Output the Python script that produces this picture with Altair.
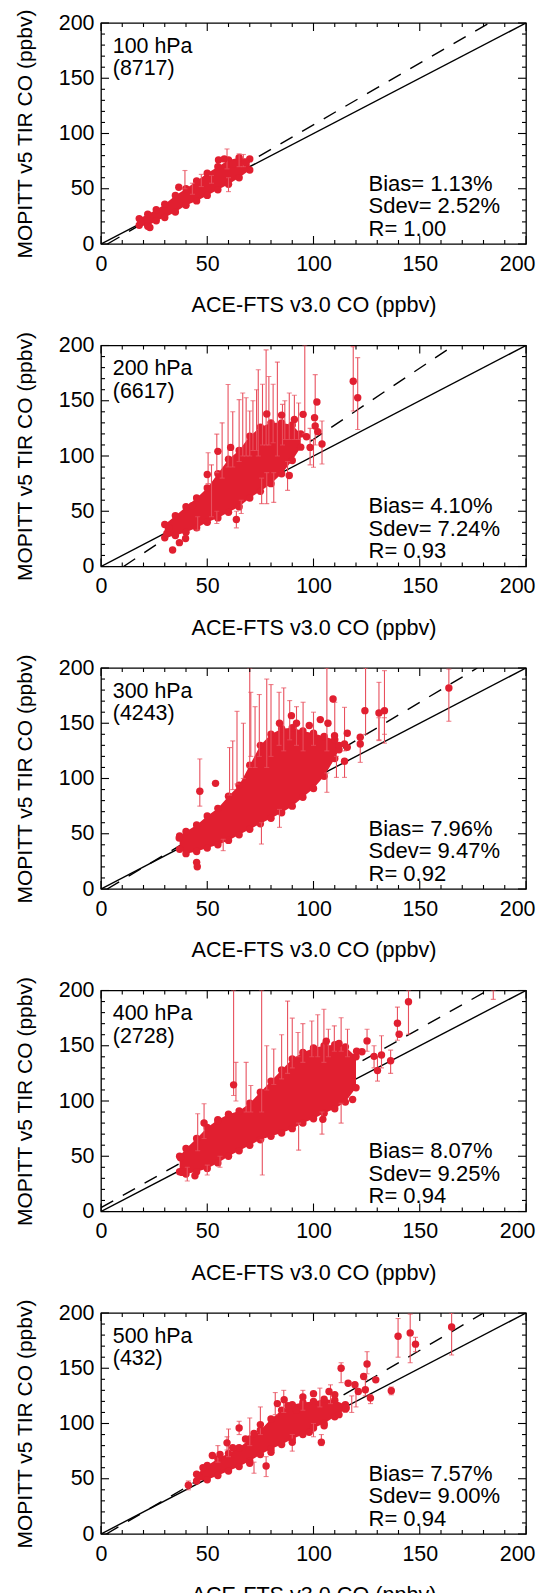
import altair as alt
import pandas as pd

# ---------------- data ----------------
LEVELS = ["100 hPa", "200 hPa", "300 hPa", "400 hPa", "500 hPa"]
COUNTS = ["(8717)", "(6617)", "(4243)", "(2728)", "(432)"]
BIAS = ["1.13%", "4.10%", "7.96%", "8.07%", "7.57%"]
SDEV = ["2.52%", "7.24%", "9.47%", "9.25%", "9.00%"]
CORR = ["1.00", "0.93", "0.92", "0.94", "0.94"]

# dashed fit line end points (x, y) for each panel
DASH_X = [[3.0, 182.7], [10.6, 165.9], [2.9, 177.1], [0.0, 181.9], [2.5, 180.0]]
DASH_Y = [[0.0, 200.0], [0.0, 200.0], [0.0, 200.0], [3.5, 200.0], [0.0, 200.0]]
ONE_X = [0, 200]
ONE_Y = [0, 200]

MAJOR = [0, 50, 100, 150, 200]
MINOR = [10, 20, 30, 40, 60, 70, 80, 90, 110, 120, 130, 140, 160, 170, 180, 190]

# dense core of each cloud: (x, lower edge, upper edge)
BAND1 = [(18, 17, 23), (22, 16, 27), (26, 21, 31), (30, 24, 36), (35, 29, 44), (40, 35, 50),
         (45, 39, 57), (50, 44, 64), (55, 49, 70), (60, 54, 76), (65, 60, 78), (70, 67, 77)]
BAND2 = [(30, 26, 38), (35, 28, 46), (40, 31, 54), (45, 35, 62), (50, 40, 71), (55, 44, 84),
         (60, 49, 97), (65, 54, 105), (70, 62, 118), (75, 68, 126), (80, 75, 130), (85, 84, 130),
         (90, 96, 128), (94, 108, 120)]
BAND3 = [(37, 36, 48), (40, 32, 52), (45, 34, 58), (50, 37, 66), (55, 40, 73), (60, 44, 84),
         (65, 49, 94), (70, 54, 112), (75, 59, 130), (80, 64, 140), (85, 69, 145), (90, 75, 146),
         (95, 83, 143), (100, 91, 141), (105, 102, 138), (110, 118, 135), (112, 126, 130)]
BAND4 = [(37, 36, 50), (40, 34, 57), (45, 36, 66), (50, 39, 76), (55, 44, 83), (60, 50, 88),
         (65, 55, 91), (70, 60, 98), (75, 65, 108), (80, 68, 118), (85, 71, 128), (90, 75, 138),
         (95, 80, 144), (100, 84, 148), (105, 89, 150), (110, 93, 151), (115, 99, 149), (120, 112, 140)]
BAND5 = [(45, 48, 54), (50, 49, 62), (55, 53, 68), (60, 57, 73), (65, 61, 78), (70, 66, 86),
         (75, 72, 94), (80, 77, 104), (85, 81, 112), (90, 86, 117), (95, 90, 119), (100, 96, 120),
         (105, 100, 122), (110, 106, 121), (115, 113, 117)]

# individual points (x, y)
PTS1 = [(18.7, 19.6), (23, 15), (36.6, 51.3), (55.3, 76), (58, 77), (62, 72.5), (68, 74)]
PTS2 = [(33.7, 15), (36.9, 21.6), (39.8, 25.4), (50, 83.2), (55, 104.2), (61, 107.8), (63.7, 42.5),
        (101.6, 148.8), (118.7, 167.7), (120.8, 152.7), (104, 110.8), (100.8, 127.2), (96.7, 117.4),
        (98.4, 107.8), (91, 133), (95.1, 137.7), (88.6, 82.3), (100.5, 134.7), (102, 122), (85, 137),
        (78, 138), (43, 55), (31, 30), (32, 35)]
PTS3 = [(36.8, 46.2), (45, 24.1), (45.3, 20.2), (46.5, 88.4), (53.9, 95.6), (89.6, 156.9),
        (109.2, 172), (103.2, 153.3), (106.8, 150), (109.9, 138.8), (114.6, 131.2), (115.9, 140.9),
        (115.9, 128.2), (114.6, 115.6), (122, 137.3), (122, 131.2), (124.2, 161.4), (130.8, 159.3),
        (133.4, 161.4), (163.7, 181.9), (92, 150), (98, 148), (84, 150)]
PTS4 = [(37.4, 48.6), (38.2, 35.4), (44.2, 32.4), (48.5, 80.1), (62.4, 114.6), (104.4, 83.4),
        (118.4, 101.4), (144.7, 189.8), (139.5, 170.3), (140.3, 160.4), (136.3, 136.5), (132, 141.6),
        (128.5, 140.4), (130.1, 127.5), (125.2, 154.4), (122.8, 144.5), (120.3, 145), (55, 82),
        (112, 152), (106, 154)]
PTS5 = [(41.1, 44.1), (65, 96), (59.3, 82.5), (52.4, 71.1), (77.7, 61.5), (103.7, 83.1), (113, 150),
        (116.3, 136.5), (125.2, 153.9), (123.6, 142.5), (129.3, 139.5), (124.4, 130.5), (126.8, 123),
        (136.6, 129.6), (139.8, 179), (145.5, 182), (148, 171.8), (165, 187.4), (119.5, 135),
        (121.1, 129), (115.4, 114), (107.3, 129), (86.2, 121.5), (83, 118), (95, 124), (100, 127),
        (110, 126), (72, 91), (68, 86), (75, 99), (62, 78), (56, 72), (48, 60), (46, 52), (70, 64),
        (80, 74), (90, 83), (98, 92), (105, 98), (112, 108), (88, 116), (92, 112)]

# error bars (x, lower, upper)
ERR1 = [(39.5, 50, 66.5), (47.2, 52, 63), (59.3, 68, 86), (60, 47.4, 60), (65, 70, 81.6),
        (67, 70, 81), (52, 55, 62), (43, 45, 55)]
ERR2 = [(118.7, 140.7, 199), (120.8, 124, 189), (104, 92.8, 131.7), (59.8, 90, 164.7), (77.7, 110, 196),
        (95.9, 120, 200), (100.8, 110, 173.6), (79, 110, 172), (81, 112, 165), (65, 95, 151),
        (68.3, 100, 152.7), (54.5, 85, 119.8), (50.4, 75, 103), (88.6, 115, 157), (91, 115, 155),
        (85.4, 110, 146.7), (70, 100, 140.7), (73.2, 105, 160), (57, 80, 130), (62, 90, 140),
        (75.6, 56.9, 80), (78, 56.9, 85), (81.3, 58, 85), (87.8, 68.9, 95), (100, 89.8, 115),
        (63.7, 35, 50), (66, 47.9, 60), (54.5, 38.9, 50), (45.5, 32.9, 45), (98.4, 92, 125),
        (83, 100, 185), (74, 100, 178), (66.7, 100, 157), (71.5, 105, 150), (76, 110, 165),
        (86.5, 115, 150), (93, 115, 148), (52, 45, 92)]
ERR3 = [(163.7, 151.8, 199), (70, 110, 200), (106.3, 125, 200), (124.5, 140, 200), (133.4, 140, 197.6),
        (130.8, 135, 187), (64, 95, 160.8), (70.5, 120, 178), (74.5, 120, 176), (83.8, 130, 178),
        (88.8, 135, 170.5), (95.1, 125, 169), (110, 140, 169), (114.6, 125, 164.4), (46.5, 75, 117.7),
        (62, 90, 134), (60.5, 85, 128), (75.5, 40.7, 60), (57.5, 34.7, 45), (84, 55.8, 72),
        (106.3, 87.5, 105), (110.8, 101, 120), (114.6, 101, 118), (122, 114.6, 135), (130.8, 134.3, 155),
        (133.4, 132, 155), (80, 120, 185), (86, 125, 182), (67, 100, 150), (78, 110, 190),
        (92, 130, 165), (100, 130, 160), (72.5, 110, 165)]
ERR4 = [(144.7, 160.4, 200), (139.5, 155, 185), (136.3, 125, 146), (132, 130, 159), (128.5, 130, 150),
        (130.1, 118, 140), (125.2, 145, 165), (62.4, 105, 200), (75.6, 90, 200), (63.5, 100, 135),
        (48.5, 66, 97.5), (87.8, 125, 190.4), (104.9, 135, 183), (45.5, 55, 88.5), (68.3, 90, 135),
        (70.5, 90, 114), (81.3, 115, 147), (92.7, 140, 162), (99.2, 140, 172.4), (109.8, 145, 168),
        (113, 145, 175.4), (116, 140, 165), (75.9, 33, 65), (93, 55.5, 80), (104, 70, 90), (113, 80, 98),
        (56, 40, 50), (50, 33, 42), (40.6, 27.6, 40), (184.6, 192, 200), (85, 120, 160), (95, 135, 170),
        (78, 110, 150), (90, 130, 175), (102, 140, 178), (107, 140, 165)]
ERR5 = [(41.1, 40, 48), (113, 137, 155), (125.2, 145, 165), (139.8, 160, 195), (145.5, 155, 199),
        (148, 165, 178), (165, 162, 200), (77.7, 52, 70), (136.6, 126, 133), (65, 90, 102), (59.3, 76, 88),
        (86, 110, 130), (82, 108, 128), (95, 112, 130), (103, 115, 132), (108, 118, 135), (118, 110, 125),
        (120, 115, 133), (75, 90, 115), (70, 80, 105), (60, 70, 95), (55, 65, 80), (72, 55, 65),
        (90, 75, 90), (100, 88, 100), (103.7, 80, 90), (126.8, 118, 126), (124.4, 125, 140)]

BANDS = [BAND1, BAND2, BAND3, BAND4, BAND5]
POINTS = [PTS1, PTS2, PTS3, PTS4, PTS5]
ERRS = [ERR1, ERR2, ERR3, ERR4, ERR5]

# ---------------- styling ----------------
W, H = 425, 221
RED = "#E11F30"
ERRC = "#E8505E"
FONT = "Liberation Sans"
XS = alt.Scale(domain=[0, 200], nice=False, zero=False)
YS = alt.Scale(domain=[0, 200], nice=False, zero=False)
XAX = alt.Axis(values=MAJOR, title="ACE-FTS v3.0 CO (ppbv)", ticks=False, tickSize=0,
               domain=False, grid=False, labelPadding=9, labelFlush=False,
               labelAlign={"condition": {"test": "datum.value >= 200", "value": "right"},
                           "value": "center"},
               labelOffset={"condition": {"test": "datum.value >= 200", "value": 9},
                            "value": 0},
               titleFontSize=21.6, titleY=67.5, titleBaseline="alphabetic")
YAX = alt.Axis(values=MAJOR, title="MOPITT v5 TIR CO (ppbv)", ticks=False, tickSize=0,
               domain=False, grid=False, labelPadding=7, labelFlush=False,
               titleFontSize=21, titleX=-70, titleBaseline="alphabetic")


def X(f):
    return alt.X(f, scale=XS, axis=XAX)


def Y(f):
    return alt.Y(f, scale=YS, axis=YAX)


def tick_layers(values, length):
    df = pd.DataFrame({"v": values})
    base = alt.Chart(df).mark_rule(color="black", strokeWidth=1.1)
    return [
        base.encode(y=Y("v:Q"), x=alt.value(0), x2=alt.value(length)),
        base.encode(y=Y("v:Q"), x=alt.value(W - length), x2=alt.value(W)),
        base.encode(x=X("v:Q"), y=alt.value(H), y2=alt.value(H - length)),
        base.encode(x=X("v:Q"), y=alt.value(0), y2=alt.value(length)),
    ]


def text_layer(label, x, y, size):
    return alt.Chart(pd.DataFrame({"t": [label]})).mark_text(
        align="left", baseline="alphabetic", font=FONT, fontSize=size,
        lineBreak="\n", lineHeight=22.7, color="black"
    ).encode(x=alt.value(x), y=alt.value(y), text="t:N")


def panel(i):
    band = pd.DataFrame(BANDS[i], columns=["x", "lo", "hi"])
    pts = pd.DataFrame(POINTS[i], columns=["x", "y"])
    err = pd.DataFrame(ERRS[i], columns=["x", "lo", "hi"])
    one = pd.DataFrame({"x": ONE_X, "y": ONE_Y})
    dash = pd.DataFrame({"x": DASH_X[i], "y": DASH_Y[i]})

    one_l = alt.Chart(one).mark_line(color="black", strokeWidth=1.4, clip=True).encode(
        x=X("x:Q"), y=Y("y:Q"))
    dash_l = alt.Chart(dash).mark_line(color="black", strokeWidth=1.4, strokeDash=[14, 11],
                                       clip=True).encode(x=X("x:Q"), y=Y("y:Q"))
    band_l = alt.Chart(band).mark_area(color=RED, opacity=1, clip=True).encode(
        x=X("x:Q"), y=Y("lo:Q"), y2="hi:Q")
    edge_lo = alt.Chart(band).mark_circle(color=RED, size=55, opacity=1, clip=True).encode(
        x=X("x:Q"), y=Y("lo:Q"))
    edge_hi = alt.Chart(band).mark_circle(color=RED, size=55, opacity=1, clip=True).encode(
        x=X("x:Q"), y=Y("hi:Q"))
    err_l = alt.Chart(err).mark_rule(color=ERRC, strokeWidth=1.1, clip=True).encode(
        x=X("x:Q"), y=Y("lo:Q"), y2="hi:Q")
    cap_lo = alt.Chart(err).mark_tick(color=ERRC, orient="horizontal", size=5, thickness=1.1,
                                      clip=True).encode(x=X("x:Q"), y=Y("lo:Q"))
    cap_hi = alt.Chart(err).mark_tick(color=ERRC, orient="horizontal", size=5, thickness=1.1,
                                      clip=True).encode(x=X("x:Q"), y=Y("hi:Q"))
    pts_l = alt.Chart(pts).mark_circle(color=RED, size=55, opacity=1, clip=True).encode(
        x=X("x:Q"), y=Y("y:Q"))

    layers = [one_l, dash_l, band_l, edge_lo, edge_hi, err_l, cap_lo, cap_hi, pts_l]
    layers += tick_layers(MAJOR, 8)
    layers += tick_layers(MINOR, 4)
    layers.append(text_layer(LEVELS[i] + "\n" + COUNTS[i], 11.8, 29.5, 21.4))
    layers.append(text_layer("Bias= " + BIAS[i] + "\nSdev= " + SDEV[i] + "\nR= " + CORR[i],
                             267.5, 167.5, 22))
    return alt.layer(*layers).properties(width=W, height=H)


chart = alt.vconcat(*[panel(i) for i in range(5)], spacing=101.5, bounds="flush").configure_view(
    stroke="black", strokeWidth=1.3
).configure_axis(
    labelFont=FONT, labelFontSize=21.4, labelColor="black",
    titleFont=FONT, titleColor="black", titleFontWeight="normal",
).properties(padding={"left": 5, "top": 0, "right": 0, "bottom": 5})

chart.save("out.html", embed_options={"renderer": "svg", "actions": False})
